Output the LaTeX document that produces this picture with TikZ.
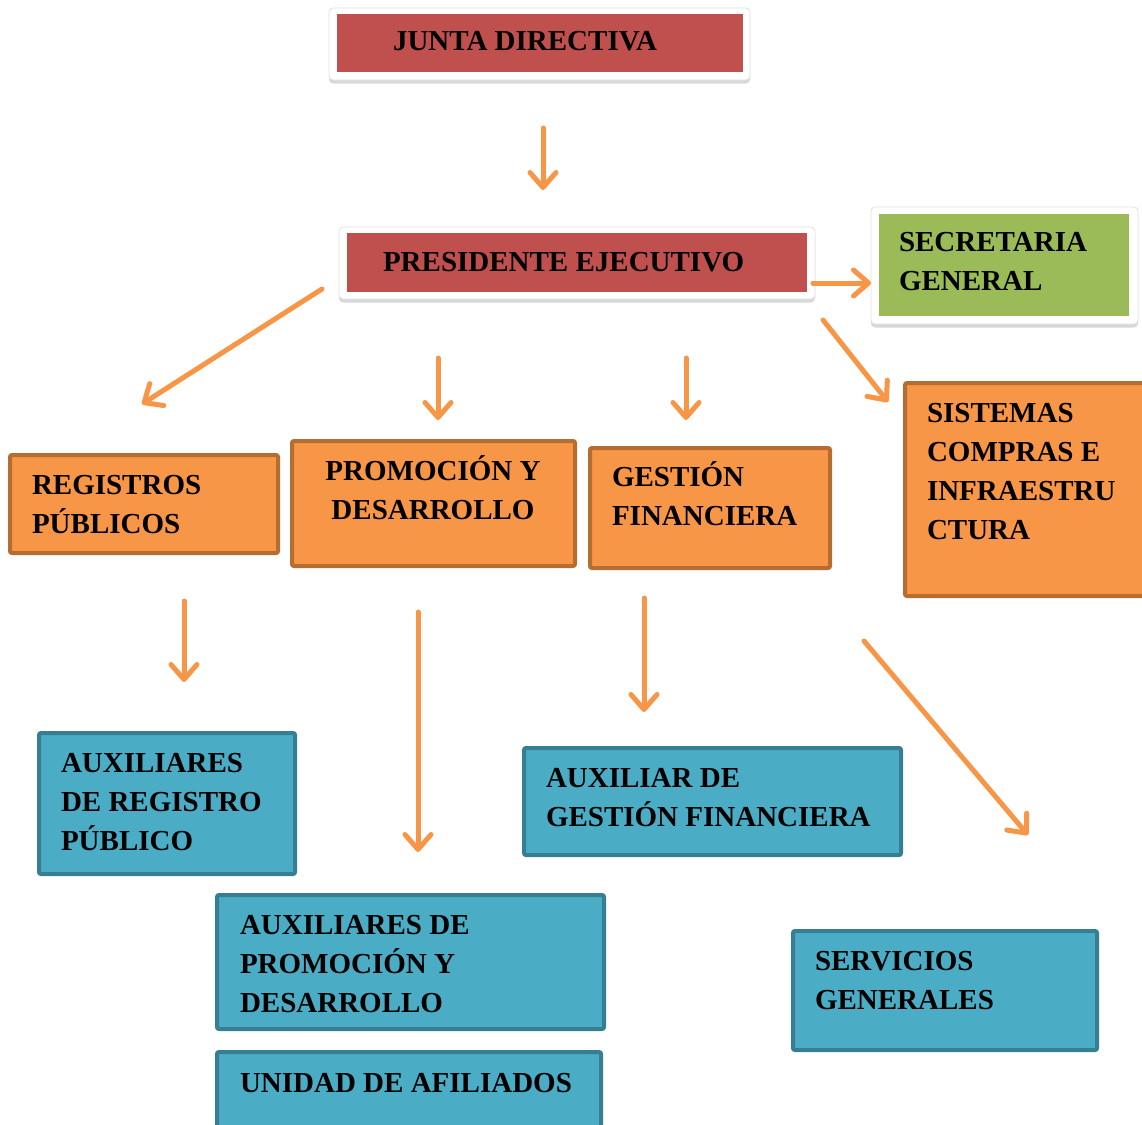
\documentclass[tikz,border=0pt]{standalone}
\usepackage{fontspec}
\setmainfont{Liberation Serif}
\usetikzlibrary{arrows.meta,shadows}
\definecolor{redbox}{HTML}{C0504D}
\definecolor{greenbox}{HTML}{9BBB59}
\definecolor{orangebox}{HTML}{F79646}
\definecolor{orangeline}{HTML}{B66D31}
\definecolor{bluebox}{HTML}{4BACC6}
\definecolor{blueline}{HTML}{367E92}
\definecolor{arrowc}{HTML}{F79646}
\begin{document}
\begin{tikzpicture}[x=1pt,y=-1pt,
  box/.style={rectangle, inner sep=0pt, outer sep=0pt},
  frame/.style={box, fill=white, draw=black!12, line width=0.8pt, rounded corners=4pt,
    drop shadow={shadow xshift=0pt, shadow yshift=-3.5pt, opacity=0.3}},
  redfill/.style={box, fill=redbox},
  greenfill/.style={box, fill=greenbox},
  obox/.style={box, fill=orangebox, draw=orangeline, line width=4pt, rounded corners=2pt},
  bbox/.style={box, fill=bluebox, draw=blueline, line width=4pt, rounded corners=2pt},
  txt/.style={inner sep=0pt, outer sep=0pt, text=black,
    font=\fontsize{29}{39}\selectfont\bfseries},
  arr/.style={draw=arrowc, line width=5pt, line cap=round,
    -{Straight Barb[length=15pt,width=26pt,round]}}
]
\useasboundingbox (0,0) rectangle (1142,1124);
\clip (0,0) rectangle (1142,1124);
\fill[white] (0,0) rectangle (1142,1124);

% framed boxes
\node[frame, minimum width=421pt, minimum height=72pt] (fJ) at (539.5,44) {};
\node[redfill, minimum width=406pt, minimum height=58pt] (bJ) at (540,43) {};
\node[frame, minimum width=476pt, minimum height=72pt] (fP) at (577,263) {};
\node[redfill, minimum width=460pt, minimum height=59pt] (bP) at (577,262.5) {};
\node[frame, minimum width=267pt, minimum height=117pt] (fS) at (1004.5,265.5) {};
\node[greenfill, minimum width=250pt, minimum height=102pt] (bS) at (1004,265) {};

% orange boxes
\node[obox, minimum width=268pt, minimum height=98pt] (bReg) at (144,504) {};
\node[obox, minimum width=283pt, minimum height=125pt] (bProm) at (433.5,503.5) {};
\node[obox, minimum width=240pt, minimum height=120pt] (bGest) at (710,508) {};
\node[obox, minimum width=243pt, minimum height=213pt] (bSist) at (1026.5,489.5) {};

% blue boxes
\node[bbox, minimum width=256pt, minimum height=141pt] (bAuxReg) at (167,803.5) {};
\node[bbox, minimum width=377pt, minimum height=107pt] (bAuxGest) at (712.5,801.5) {};
\node[bbox, minimum width=387pt, minimum height=134pt] (bAuxProm) at (410.5,962) {};
\node[bbox, minimum width=384pt, minimum height=76pt] (bUni) at (409,1090) {};
\node[bbox, minimum width=304pt, minimum height=119pt] (bServ) at (945,990.5) {};

% texts
\node[txt, anchor=base west] (tJ) at (393,51) {JUNTA DIRECTIVA};
\node[txt, anchor=base west] (tP) at (383,271) {PRESIDENTE EJECUTIVO};
\node[txt, anchor=base west] (tS) at (899,251) {\parbox[t]{300pt}{SECRETARIA\\GENERAL}};
\node[txt, anchor=base west] (tReg) at (32,494) {\parbox[t]{300pt}{REGISTROS\\PÚBLICOS}};
\node[txt, anchor=base] (tProm) at (433,480) {\parbox[t]{300pt}{\centering PROMOCIÓN Y\\DESARROLLO}};
\node[txt, anchor=base west] (tGest) at (612,486) {\parbox[t]{300pt}{GESTIÓN\\FINANCIERA}};
\node[txt, anchor=base west] (tSist) at (927,422) {\parbox[t]{300pt}{SISTEMAS\\COMPRAS E\\INFRAESTRU\\CTURA}};
\node[txt, anchor=base west] (tAuxReg) at (61,772) {\parbox[t]{300pt}{AUXILIARES\\DE REGISTRO\\PÚBLICO}};
\node[txt, anchor=base west] (tAuxGest) at (546,787) {\parbox[t]{400pt}{AUXILIAR DE\\GESTIÓN FINANCIERA}};
\node[txt, anchor=base west] (tAuxProm) at (240,934) {\parbox[t]{400pt}{AUXILIARES DE\\PROMOCIÓN Y\\DESARROLLO}};
\node[txt, anchor=base west] (tUni) at (240,1092) {UNIDAD DE AFILIADOS};
\node[txt, anchor=base west] (tServ) at (815,970) {\parbox[t]{300pt}{SERVICIOS\\GENERALES}};

% arrow end points (arrows float between boxes)
\coordinate (a1s) at (543,128);  \coordinate (a1e) at (543,190);
\coordinate (a2s) at (322,289);  \coordinate (a2e) at (142,404);
\coordinate (a3s) at (438,358);  \coordinate (a3e) at (438,420);
\coordinate (a4s) at (686,358);  \coordinate (a4e) at (686,420);
\coordinate (a5s) at (813,283);  \coordinate (a5e) at (871,283);
\coordinate (a6s) at (823,320);  \coordinate (a6e) at (888,402);
\coordinate (a7s) at (184,601);  \coordinate (a7e) at (184,682);
\coordinate (a8s) at (418,612);  \coordinate (a8e) at (418,852);
\coordinate (a9s) at (644,598);  \coordinate (a9e) at (644,712);
\coordinate (a10s) at (864,641); \coordinate (a10e) at (1028,835);

\foreach \i in {1,...,10} {\draw[arr] (a\i s) -- (a\i e);}
\end{tikzpicture}
\end{document}
